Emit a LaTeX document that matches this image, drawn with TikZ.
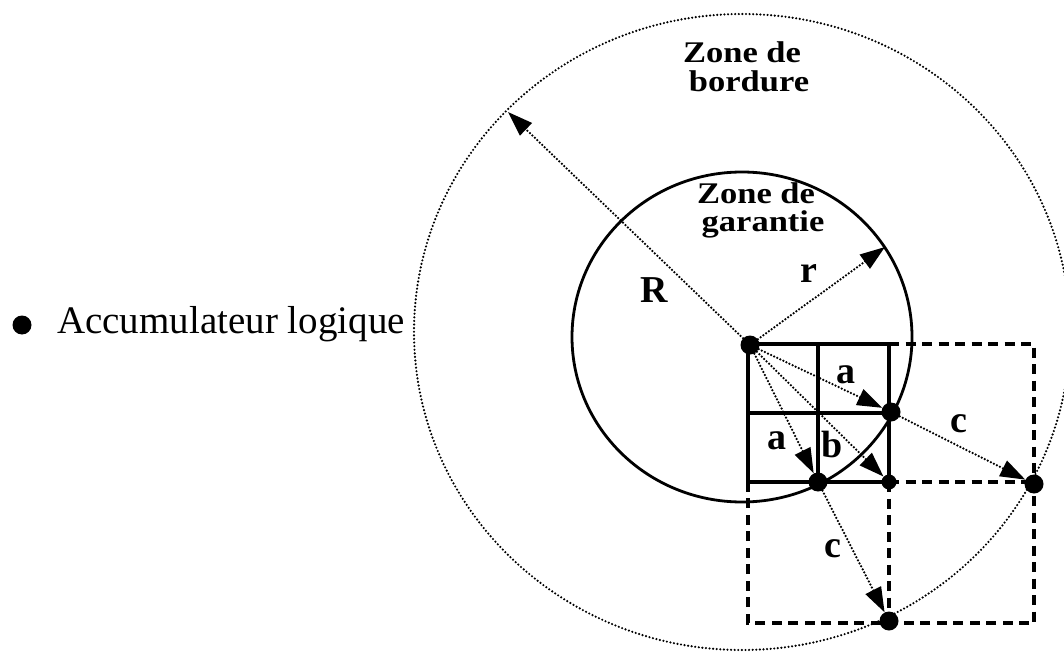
\documentclass[tikz,border=0pt]{standalone}
\usepackage{fontspec}
\setmainfont{Liberation Serif}
\usetikzlibrary{arrows.meta}
\begin{document}
\begin{tikzpicture}[x=1pt,y=-1pt,
  dot/.style={circle,fill=black,inner sep=0pt,minimum size=19pt},
  smalldot/.style={circle,fill=black,inner sep=0pt,minimum size=15pt},
  ptr/.style={line width=2.5pt,line cap=round,dash pattern=on 0pt off 3.4pt,-{Triangle[length=25pt,width=17pt]}},
  solidl/.style={line width=3.2pt},
  dashl/.style={line width=3.2pt,dash pattern=on 10pt off 6.5pt},
  lab/.style={font=\fontsize{38}{40}\selectfont\bfseries,inner sep=0pt,anchor=base},
  zone/.style={font=\fontsize{30}{30}\selectfont\bfseries,inner sep=0pt,anchor=base}]
\useasboundingbox (0,0) rectangle (1064,652);

% circles
\draw[line width=2.4pt,line cap=round,dash pattern=on 0pt off 3.6pt] (742,332) ellipse [x radius=328, y radius=318];
\draw[line width=2.8pt] (742,337) ellipse [x radius=170, y radius=165];

% grid
\draw[dashl] (889,344) -- (1034,344) -- (1034,623) -- (748,623) -- (748,482);
\draw[dashl] (889,482) -- (1034,482);
\draw[dashl] (889,482) -- (889,623);
\draw[solidl] (748,344) rectangle (889,482);
\draw[solidl] (818,344) -- (818,482);
\draw[solidl] (748,413) -- (889,413);

% points
\node[dot] (O) at (750,345) {};
\node[dot] (A) at (891,412) {};
\node[dot] (B) at (818,482) {};
\node[smalldot] (K) at (889,482) {};
\node[dot] (C) at (1034,484) {};
\node[dot] (D) at (889,621) {};
\coordinate (Rtip) at (508,112);
\coordinate (rtip) at (885,247);

% arrows
\draw[ptr] (O) -- (Rtip);
\draw[ptr] (O) -- (rtip);
\draw[ptr] (O) -- (A);
\draw[ptr] (O) -- (B);
\draw[ptr] (O) -- (K);
\draw[ptr] (A) -- (C);
\draw[ptr] (B) -- (D);

% labels
\node[lab] (lR) at (654,302) {R};
\node[lab] (lr) at (809,282) {r};
\node[lab] (la1) at (846,383) {a};
\node[lab] (la2) at (777,449) {a};
\node[lab] (lb) at (832,457) {b};
\node[lab] (lc1) at (959,432) {c};
\node[lab] (lc2) at (833,557) {c};

\node[zone] (zb1) at (742,63) {\scalebox{1.15}[1]{Zone de}};
\node[zone] (zb2) at (749,92) {\scalebox{1.15}[1]{bordure}};
\node[zone] (zg1) at (756,204) {\scalebox{1.15}[1]{Zone de}};
\node[zone] (zg2) at (763,232) {\scalebox{1.15}[1]{garantie}};

% legend
\node[circle,fill=black,inner sep=0pt,minimum size=19pt] (bullet) at (22,325) {};
\node[font=\fontsize{39}{41}\selectfont,inner sep=0pt,anchor=base west] (legend) at (57,333) {Accumulateur logique};
\end{tikzpicture}
\end{document}
